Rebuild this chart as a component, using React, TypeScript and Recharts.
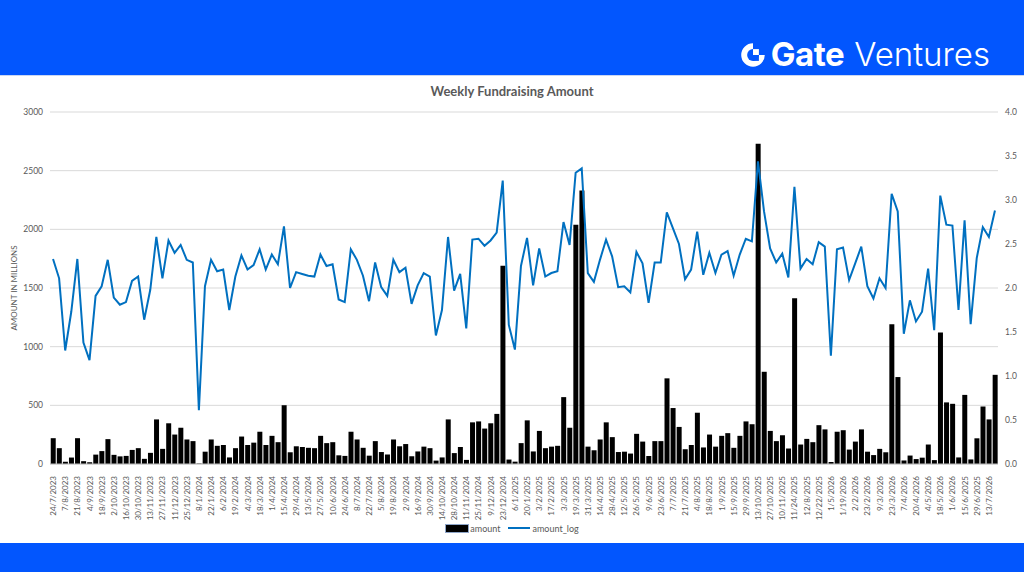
import { Bar, CartesianGrid, ComposedChart, Legend, Line, XAxis, YAxis } from 'recharts';

// every second week gets a label on the axis
const tickLabels = [
  '24/7/2023', '7/8/2023', '21/8/2023', '4/9/2023', '18/9/2023', '2/10/2023', '16/10/2023', '30/10/2023',
  '13/11/2023', '27/11/2023', '11/12/2023', '25/12/2023', '8/1/2024', '22/1/2024', '6/2/2024', '19/2/2024',
  '4/3/2024', '18/3/2024', '1/4/2024', '15/4/2024', '29/4/2024', '13/5/2024', '27/5/2024', '10/6/2024',
  '24/6/2024', '8/7/2024', '22/7/2024', '5/8/2024', '19/8/2024', '2/9/2024', '16/9/2024', '30/9/2024',
  '14/10/2024', '28/10/2024', '11/11/2024', '25/11/2024', '9/12/2024', '23/12/2024', '6/1/2025', '20/1/2025',
  '3/2/2025', '17/2/2025', '3/3/2025', '19/3/2025', '31/3/2025', '14/4/2025', '28/4/2025', '12/5/2025',
  '26/5/2025', '9/6/2025', '23/6/2025', '7/7/2025', '21/7/2025', '4/8/2025', '18/8/2025', '1/9/2025',
  '15/9/2025', '29/9/2025', '13/10/2025', '27/10/2025', '10/11/2025', '11/24/2025', '12/8/2025', '12/22/2025',
  '1/5/2026', '1/19/2026', '2/2/2026', '23/2/2026', '9/3/2026', '23/3/2026', '7/4/2026', '20/4/2026',
  '4/5/2026', '18/5/2026', '1/6/2026', '15/6/2025', '29/6/2025', '13/7/2026',
];

// weekly amount, millions
const amounts = [
  220, 135, 20, 55, 220, 24, 15, 80, 110, 212, 78, 65, 69, 120, 135, 44, 95, 380, 129, 347,
  251, 309, 209, 195, 4, 105, 209, 155, 162, 56, 135, 234, 162, 182, 275, 162, 240, 186, 501, 100,
  151, 145, 138, 135, 240, 178, 186, 74, 69, 275, 209, 138, 71, 195, 102, 81, 209, 151, 170, 66,
  107, 148, 135, 29, 56, 380, 93, 145, 35, 355, 363, 302, 347, 427, 1690, 38, 20, 178, 372, 107,
  282, 135, 148, 155, 570, 309, 2040, 2330, 148, 117, 209, 355, 229, 102, 105, 89, 257, 191, 68, 195,
  195, 730, 477, 316, 126, 162, 437, 141, 251, 148, 240, 263, 138, 240, 363, 339, 2730, 786, 282, 195,
  245, 132, 1412, 166, 214, 186, 331, 295, 17, 275, 288, 123, 191, 295, 105, 76, 129, 100, 1190, 741,
  30, 72, 42, 54, 166, 33, 1120, 525, 513, 56, 589, 39, 219, 490, 380, 760,
];

// log10 of the weekly amount, right axis
const amountLog = [
  2.33, 2.11, 1.29, 1.73, 2.33, 1.38, 1.18, 1.91, 2.02, 2.32, 1.89, 1.81, 1.84, 2.08, 2.13, 1.64, 1.98, 2.58, 2.11, 2.54,
  2.4, 2.49, 2.32, 2.29, 0.61, 2.02, 2.32, 2.19, 2.21, 1.75, 2.13, 2.37, 2.21, 2.26, 2.44, 2.21, 2.38, 2.27, 2.7, 2.0,
  2.18, 2.16, 2.14, 2.13, 2.38, 2.25, 2.27, 1.87, 1.84, 2.44, 2.32, 2.14, 1.85, 2.29, 2.01, 1.91, 2.32, 2.18, 2.23, 1.82,
  2.03, 2.17, 2.13, 1.46, 1.75, 2.58, 1.97, 2.16, 1.54, 2.55, 2.56, 2.48, 2.54, 2.63, 3.22, 1.58, 1.3, 2.25, 2.57, 2.03,
  2.45, 2.13, 2.17, 2.19, 2.75, 2.49, 3.31, 3.36, 2.17, 2.07, 2.32, 2.55, 2.36, 2.01, 2.02, 1.95, 2.41, 2.28, 1.83, 2.29,
  2.29, 2.86, 2.68, 2.5, 2.1, 2.21, 2.64, 2.15, 2.4, 2.17, 2.38, 2.42, 2.14, 2.38, 2.56, 2.53, 3.44, 2.87, 2.45, 2.29,
  2.39, 2.12, 3.15, 2.22, 2.33, 2.27, 2.52, 2.47, 1.23, 2.44, 2.46, 2.09, 2.28, 2.47, 2.02, 1.88, 2.11, 2.0, 3.07, 2.87,
  1.48, 1.86, 1.62, 1.73, 2.22, 1.52, 3.05, 2.72, 2.71, 1.75, 2.77, 1.59, 2.34, 2.69, 2.58, 2.88,
];

const leftTicks = [0, 500, 1000, 1500, 2000, 2500, 3000];
const rightTicks = [0, 0.5, 1, 1.5, 2, 2.5, 3, 3.5, 4];

const data = amounts.map((amount, i) => ({ week: i, amount, amount_log: amountLog[i] }));

const BLUE = '#0256fe';
const GREY = '#595959';
const FONT = 'Lato, "Open Sans", sans-serif';

function WeekTick({ x, y, payload }: any) {
  const label = tickLabels[payload.value / 2] ?? '';
  return (
    <text
      x={x + 3}
      y={y + 4}
      transform={`rotate(-90, ${x + 3}, ${y + 4})`}
      textAnchor="end"
      fontSize={8}
      fontFamily={FONT}
      fill={GREY}
    >
      {label}
    </text>
  );
}

function ChartLegend() {
  return (
    <div
      style={{
        height: 20,
        display: 'flex',
        justifyContent: 'center',
        alignItems: 'center',
        gap: 8,
        fontSize: 9,
        fontFamily: FONT,
        color: GREY,
      }}
    >
      <span style={{ display: 'flex', alignItems: 'center' }}>
        <span style={{ width: 22, height: 7, background: '#000', border: '1px solid #8fa6c9', marginRight: 1 }} />
        amount
      </span>
      <span style={{ display: 'flex', alignItems: 'center' }}>
        <span style={{ width: 22, height: 2, background: '#0070c0', marginRight: 2 }} />
        amount_log
      </span>
    </div>
  );
}

function GateLogo() {
  return (
    <div
      style={{
        position: 'absolute',
        right: 34,
        top: 38,
        display: 'flex',
        alignItems: 'center',
        color: '#fff',
        fontFamily: 'Inter, sans-serif',
        fontSize: 33,
        lineHeight: 1,
      }}
    >
      <svg width={30} height={30} viewBox="0 0 28 28" style={{ marginRight: 3 }}>
        <path d="M14 3 A11 11 0 1 0 25 14 L14 14 Z" fill="#fff" />
        <circle cx={14} cy={14} r={5.5} fill={BLUE} />
        <rect x={14} y={8.5} width={5.5} height={5.5} fill="#fff" />
        <rect x={14} y={14} width={5.5} height={5.5} fill={BLUE} />
      </svg>
      <span style={{ fontWeight: 700, letterSpacing: -0.5 }}>Gate</span>
      <span style={{ fontWeight: 300, marginLeft: 10 }}>Ventures</span>
    </div>
  );
}

export default function App() {
  return (
    <div style={{ position: 'absolute', left: 0, top: 0, width: 1024, height: 572, background: '#fff', overflow: 'hidden' }}>
      <div style={{ position: 'absolute', left: 0, top: 0, width: 1024, height: 75, background: BLUE }} />
      <div style={{ position: 'absolute', left: 0, top: 75, width: 1024, height: 1, background: '#c9d6f2' }} />
      <GateLogo />
      <div
        style={{
          position: 'absolute',
          left: 0,
          top: 83,
          width: 1024,
          textAlign: 'center',
          fontFamily: FONT,
          fontWeight: 700,
          fontSize: 13,
          color: GREY,
        }}
      >
        Weekly Fundraising Amount
      </div>
      <div style={{ position: 'absolute', left: 0, top: 75 }}>
        <ComposedChart
          width={1024}
          height={468}
          data={data}
          margin={{ top: 37, right: 0, bottom: 5, left: 0 }}
          barCategoryGap="12%"
        >
          <CartesianGrid vertical={false} stroke="#d9d9d9" yAxisId="left" />
          <XAxis
            dataKey="week"
            interval={1}
            height={54}
            tick={<WeekTick />}
            tickLine={false}
            axisLine={{ stroke: '#bfbfbf' }}
          />
          <YAxis
            yAxisId="left"
            width={50}
            domain={[0, 3000]}
            ticks={leftTicks}
            tickSize={0}
            tickMargin={7}
            axisLine={false}
            tickLine={false}
            tick={{ fontSize: 8.5, fill: GREY, fontFamily: FONT }}
            label={{
              content: ({ viewBox }: any) => {
                const cx = 17;
                const cy = viewBox.y + viewBox.height / 2;
                return (
                  <text
                    x={cx}
                    y={cy}
                    transform={`rotate(-90, ${cx}, ${cy})`}
                    textAnchor="middle"
                    fontSize={8}
                    fontFamily={FONT}
                    fill={GREY}
                  >
                    AMOUNT IN MILLIONS
                  </text>
                );
              },
            }}
          />
          <YAxis
            yAxisId="right"
            orientation="right"
            width={26}
            domain={[0, 4]}
            ticks={rightTicks}
            tickFormatter={(v: number) => v.toFixed(1)}
            tickSize={0}
            tickMargin={7}
            axisLine={false}
            tickLine={false}
            tick={{ fontSize: 8.5, fill: GREY, fontFamily: FONT, textAnchor: 'start' }}
          />
          <Legend verticalAlign="bottom" content={<ChartLegend />} />
          <Bar yAxisId="left" dataKey="amount" fill="#000" isAnimationActive={false} />
          <Line
            yAxisId="right"
            dataKey="amount_log"
            type="linear"
            stroke="#0070c0"
            strokeWidth={2}
            dot={false}
            activeDot={false}
            isAnimationActive={false}
          />
        </ComposedChart>
      </div>
      <div style={{ position: 'absolute', left: 0, top: 543, width: 1024, height: 29, background: BLUE }} />
    </div>
  );
}
